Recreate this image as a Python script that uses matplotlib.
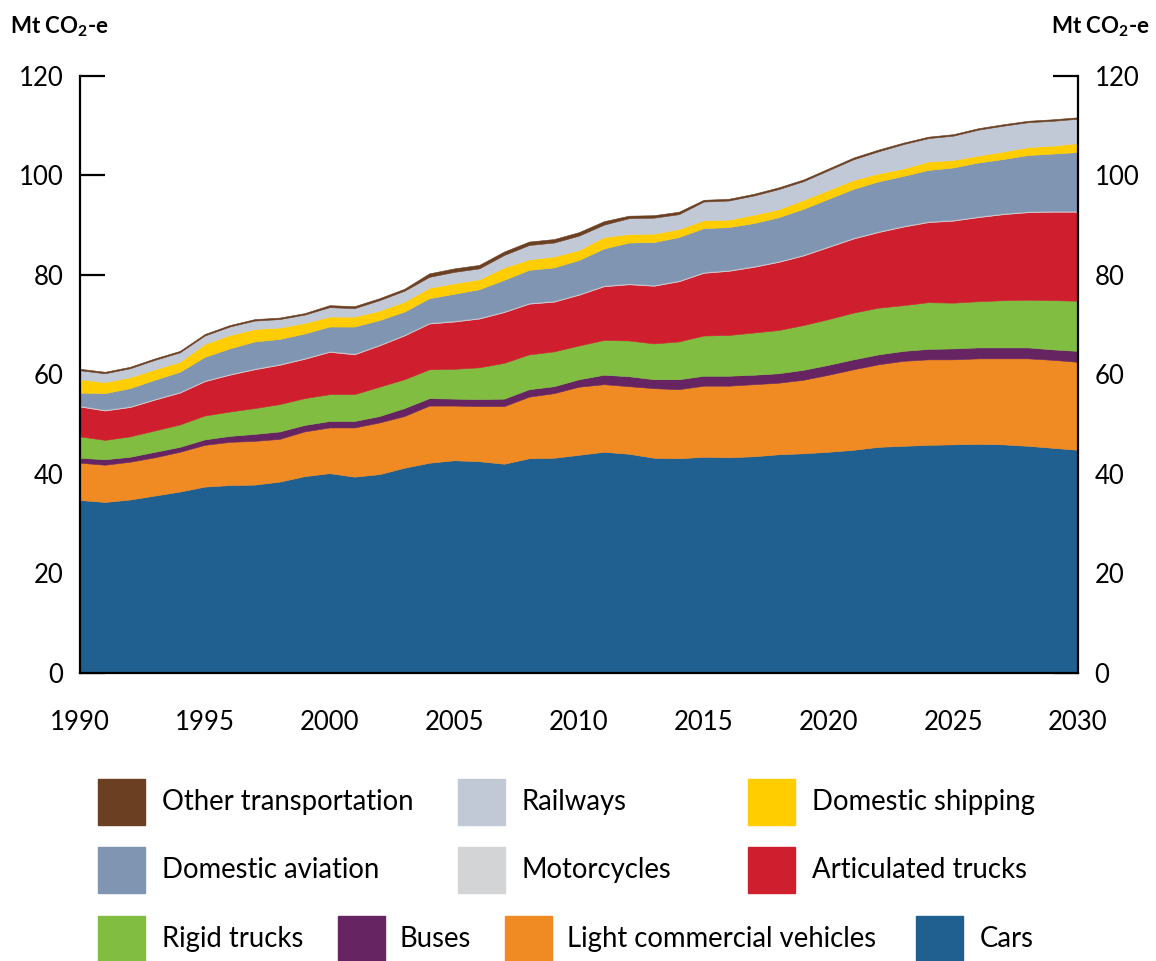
import matplotlib
matplotlib.use("Agg")
import matplotlib.pyplot as plt
from matplotlib.patches import Rectangle

plt.rcParams['font.family'] = ['Lato', 'DejaVu Sans']
plt.rcParams['mathtext.fontset'] = 'custom'
plt.rcParams['mathtext.rm'] = 'Lato'
plt.rcParams['mathtext.bf'] = 'Lato:bold'

# Data (Mt CO2-e)
years = list(range(1990, 2031))

cars = [34.7, 34.3, 34.8, 35.6, 36.4, 37.4, 37.7, 37.8, 38.4, 39.5,
        40.1, 39.4, 39.9, 41.2, 42.2, 42.7, 42.5, 42.0, 43.1, 43.2,
        43.8, 44.4, 44.0, 43.2, 43.1, 43.4, 43.3, 43.5, 43.9, 44.1,
        44.4, 44.8, 45.4, 45.6, 45.8, 45.9, 46.0, 45.9, 45.6, 45.2, 44.8]
lcv = [7.5, 7.5, 7.6, 7.7, 8.0, 8.4, 8.7, 8.8, 8.6, 9.0,
       9.2, 9.9, 10.4, 10.4, 11.5, 11.0, 11.1, 11.6, 12.4, 13.0,
       13.7, 13.6, 13.6, 14.0, 13.9, 14.3, 14.4, 14.5, 14.4, 14.8,
       15.5, 16.2, 16.6, 17.1, 17.2, 17.1, 17.2, 17.3, 17.6, 17.7, 17.7]
buses = [1.0, 1.1, 1.0, 1.1, 1.0, 1.1, 1.2, 1.4, 1.5, 1.3,
         1.3, 1.3, 1.3, 1.6, 1.5, 1.4, 1.4, 1.5, 1.5, 1.4,
         1.5, 1.9, 2.0, 1.8, 2.0, 2.0, 2.0, 1.9, 1.9, 2.0,
         2.0, 2.0, 2.0, 2.0, 2.1, 2.2, 2.2, 2.2, 2.2, 2.1, 2.2]
rigid = [4.3, 3.9, 4.1, 4.3, 4.5, 4.8, 4.9, 5.2, 5.5, 5.4,
         5.4, 5.4, 5.9, 5.8, 5.8, 6.0, 6.4, 7.2, 7.0, 7.0,
         6.8, 7.0, 7.2, 7.2, 7.6, 8.1, 8.2, 8.5, 8.7, 9.0,
         9.2, 9.4, 9.4, 9.2, 9.4, 9.2, 9.3, 9.5, 9.6, 9.9, 10.1]
articulated = [6.0, 5.9, 5.9, 6.2, 6.4, 6.9, 7.4, 7.8, 7.9, 7.9,
               8.5, 8.0, 8.3, 8.8, 9.2, 9.5, 9.8, 10.2, 10.2, 10.0,
               10.2, 10.8, 11.3, 11.6, 12.1, 12.6, 12.9, 13.2, 13.7, 14.0,
               14.5, 14.9, 15.2, 15.8, 16.1, 16.5, 16.9, 17.3, 17.6, 17.8, 17.9]
motorcycles = [0.2] * 41
aviation = [2.6, 3.3, 3.6, 3.8, 4.0, 4.7, 5.1, 5.4, 5.0, 4.9,
            4.9, 5.4, 4.9, 4.6, 4.9, 5.4, 5.7, 6.3, 6.6, 6.7,
            6.8, 7.4, 8.2, 8.6, 8.7, 8.8, 8.6, 8.6, 8.8, 9.2,
            9.5, 9.8, 10.0, 10.0, 10.3, 10.5, 10.8, 10.9, 11.3, 11.5, 11.8]
shipping = [2.7, 2.2, 2.2, 2.1, 2.0, 2.6, 2.7, 2.5, 2.3, 2.1,
            2.0, 2.0, 1.9, 2.0, 2.1, 2.1, 2.0, 2.5, 2.1, 2.2,
            2.0, 2.3, 1.7, 1.7, 1.6, 1.6, 1.5, 1.7, 1.6, 1.8,
            1.8, 1.8, 1.6, 1.5, 1.7, 1.5, 1.4, 1.5, 1.6, 1.6, 1.8]
railways = [1.8, 1.8, 1.8, 1.9, 1.9, 1.7, 1.7, 1.7, 1.7, 1.7,
            1.9, 1.7, 2.1, 2.2, 2.2, 2.3, 2.2, 2.5, 2.9, 2.8,
            2.9, 2.5, 3.2, 3.2, 3.0, 3.75, 3.85, 3.85, 4.05, 3.75,
            3.95, 4.15, 4.45, 4.9, 4.7, 4.9, 5.2, 5.2, 5.0, 5.0, 4.9]
other = [0.3, 0.3, 0.3, 0.3, 0.3, 0.3, 0.3, 0.3, 0.3, 0.3,
         0.4, 0.4, 0.4, 0.4, 0.7, 0.7, 0.7, 0.7, 0.7, 0.7,
         0.7, 0.7, 0.5, 0.5, 0.5, 0.35, 0.35, 0.35, 0.35, 0.35,
         0.35, 0.35, 0.35, 0.3, 0.3, 0.3, 0.3, 0.3, 0.3, 0.3, 0.3]

series = [cars, lcv, buses, rigid, articulated, motorcycles,
          aviation, shipping, railways, other]
names = ["Cars", "Light commercial vehicles", "Buses", "Rigid trucks",
         "Articulated trucks", "Motorcycles", "Domestic aviation",
         "Domestic shipping", "Railways", "Other transportation"]
colours = ["#1F6091", "#F08A22", "#672462", "#80BD41", "#CF1F2E",
           "#D3D4D6", "#7F95B2", "#FFCD00", "#C2C9D6", "#6B3F22"]

fig = plt.figure(figsize=(11.56, 9.61), dpi=100)
ax = fig.add_axes([0.0692, 0.3002, 0.8633, 0.6207])

polys = ax.stackplot(years, series, colors=colours)
for p, c in zip(polys, colours):
    p.set_edgecolor(c)
    p.set_linewidth(0.4)

ax.set_xlim(1990, 2030)
ax.set_ylim(0, 120)
ax.set_axisbelow(True)
ax.spines['top'].set_visible(False)
for s in ['left', 'right', 'bottom']:
    ax.spines[s].set_linewidth(1.6)
    ax.spines[s].set_zorder(5)

ax.set_xticks(range(1990, 2031, 5))
ax.set_yticks(range(0, 121, 20))
ax.tick_params(axis='x', length=0, pad=27, labelsize=18.5)
ax.tick_params(axis='y', direction='in', length=18, width=1.6,
               labelsize=18.5, left=True, right=True,
               labelleft=True, labelright=True, pad=12)

fig.text(0.009, 0.972, r"Mt CO$_\mathbf{2}$-e", fontsize=16, fontweight='bold',
         ha='left', va='center')
fig.text(0.995, 0.972, r"Mt CO$_\mathbf{2}$-e", fontsize=16, fontweight='bold',
         ha='right', va='center')

# legend drawn by hand to match the layout
W, H = 1156, 961
legend_rows = [
    [("Other transportation", 98, 162), ("Railways", 458, 522),
     ("Domestic shipping", 748, 812)],
    [("Domestic aviation", 98, 162), ("Motorcycles", 458, 522),
     ("Articulated trucks", 748, 812)],
    [("Rigid trucks", 98, 162), ("Buses", 338, 400),
     ("Light commercial vehicles", 505, 567), ("Cars", 916, 980)],
]
row_centres = [802, 870, 939]
for row, yc in zip(legend_rows, row_centres):
    for name, sx, tx in row:
        c = colours[names.index(name)]
        fig.patches.append(Rectangle((sx / W, 1 - (yc + 23) / H), 47 / W, 46 / H,
                                     transform=fig.transFigure, color=c))
        fig.text(tx / W, 1 - yc / H, name, fontsize=19.8, ha='left', va='center')

fig.savefig("out.png", dpi=100)
